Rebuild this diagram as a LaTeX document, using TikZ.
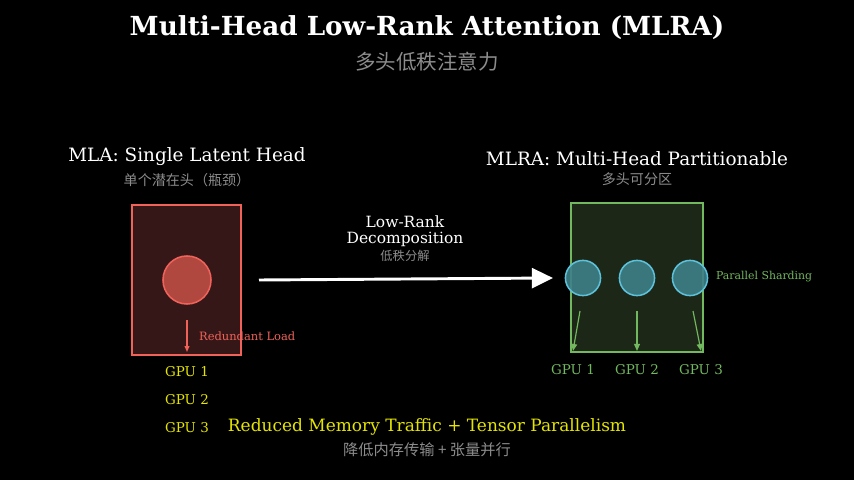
\documentclass[tikz,border=0pt]{standalone}
\usepackage{fontspec}
\setmainfont{DejaVu Serif}
\newfontfamily\cjk{Noto Sans CJK SC}
\usetikzlibrary{arrows.meta,positioning}

\definecolor{redline}{HTML}{F0625A}
\definecolor{redbox}{HTML}{361717}
\definecolor{redhead}{HTML}{B0483F}
\definecolor{greenline}{HTML}{72B85E}
\definecolor{greenbox}{HTML}{1D2717}
\definecolor{cyanline}{HTML}{5CC2DC}
\definecolor{cyanhead}{HTML}{3E8089}
\definecolor{gpuyellow}{HTML}{E5E500}
\definecolor{subgrey}{HTML}{8C8C8C}

\begin{document}
\begin{tikzpicture}[x=0.03cm,y=-0.03cm]
	\tikzstyle{Sub}		= [text=subgrey, font=\cjk\fontsize{12}{14}\selectfont]
	\tikzstyle{Head}	= [text=white, font=\fontsize{15.7}{18}\selectfont]
	\tikzstyle{Latent}	= [circle, draw, line width=1.3pt, inner sep=0pt]
	\tikzstyle{GPU}		= [font=\fontsize{11.5}{13}\selectfont]
	\tikzstyle{Flow}	= [-{Triangle[length=6pt,width=5pt]}, line width=1pt]

	\fill[black] (0,0) rectangle (854,480);

	% titles
	\node (title) at (427,28) [text=white, font=\bfseries\fontsize{22.4}{25}\selectfont] {Multi-Head Low-Rank Attention (MLRA)};
	\node (titlecn) at (427,62) [Sub, font=\cjk\fontsize{17.5}{20}\selectfont] {多头低秩注意力};

	% left: MLA
	\node (mla) at (187,157) [Head] {MLA: Single Latent Head};
	\node (mlacn) at (187,180) [Sub] {单个潜在头（瓶颈）};
	\draw[redline, fill=redbox, line width=1.3pt] (132,205) rectangle (241,355);
	\node (h0) at (187,280) [Latent, draw=redline, fill=redhead, minimum size=41pt] {};
	\coordinate (load) at (187,352);
	\draw[Flow, redline, -{Triangle[length=5pt,width=4pt]}] (187,320) -- (load);
	\node (redund) at (195,336) [anchor=west, text=redline, font=\fontsize{9.8}{11}\selectfont] {Redundant Load};
	\node (l1) at (187,372) [GPU, text=gpuyellow] {GPU 1};
	\node (l2) at (187,400) [GPU, text=gpuyellow] {GPU 2};
	\node (l3) at (187,428) [GPU, text=gpuyellow] {GPU 3};

	% middle arrow
	\coordinate (src) at (259,280);
	\coordinate (dst) at (553,278);
	\draw[white, line width=2.5pt, -{Triangle[length=18pt,width=17pt]}] (src) -- (dst);
	\node (dec) at (405,231) [text=white, align=center, font=\fontsize{13.2}{14}\selectfont] {Low-Rank\\Decomposition};
	\node (deccn) at (405,256) [Sub, font=\cjk\fontsize{10.5}{12}\selectfont] {低秩分解};

	% right: MLRA
	\node (mlra) at (637,159) [Head] {MLRA: Multi-Head Partitionable};
	\node (mlracn) at (637,179) [Sub] {多头可分区};
	\draw[greenline, fill=greenbox, line width=1.3pt] (571,203) rectangle (703,352);
	\foreach \n/\x in {1/583,2/637,3/690}
		\node (h\n) at (\x,278) [Latent, draw=cyanline, fill=cyanhead, fill opacity=0.9, minimum size=30pt] {};
	\node (shard) at (712,277) [anchor=west, text=greenline, font=\fontsize{9.3}{11}\selectfont] {Parallel Sharding};
	\foreach \n/\a/\b in {1/580/573,2/637/637,3/693/701} {
		\coordinate (s\n) at (\a,311);
		\coordinate (t\n) at (\b,351);
		\draw[Flow, greenline] (s\n) -- (t\n);
		\node (r\n) at (\b,370) [GPU, text=greenline] {GPU \n};
	}

	% bottom line
	\node (summary) at (427,427) [text=gpuyellow, font=\fontsize{14.5}{16}\selectfont] {Reduced Memory Traffic + Tensor Parallelism};
	\node (summarycn) at (427,450) [Sub, font=\cjk\fontsize{13}{15}\selectfont] {降低内存传输 + 张量并行};
\end{tikzpicture}
\end{document}
